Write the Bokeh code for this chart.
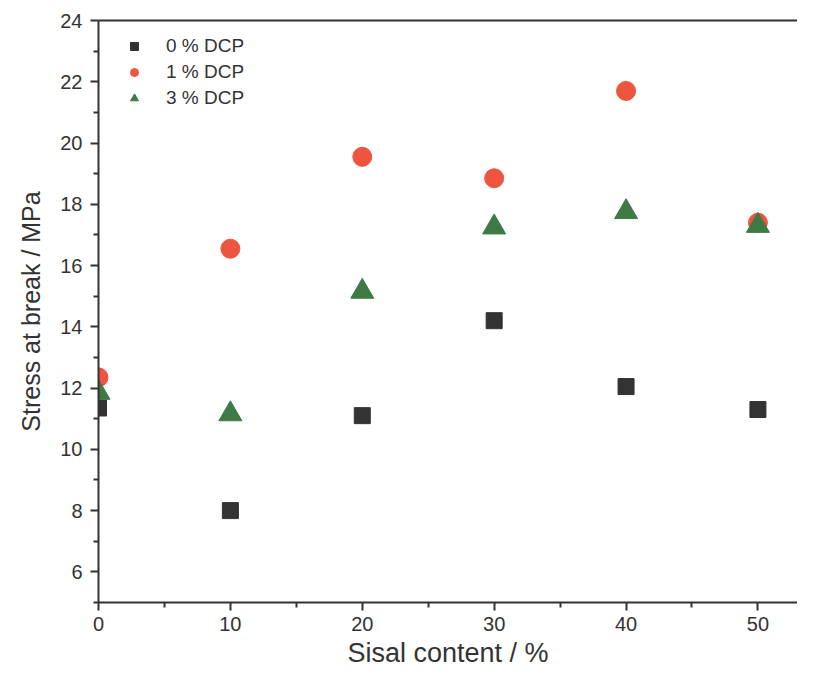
from bokeh.plotting import figure
from bokeh.models import Range1d, LinearAxis, FixedTicker, Legend, LegendItem
from bokeh.embed import file_html
from bokeh.resources import INLINE

sisal = [0, 10, 20, 30, 40, 50]
dcp0 = [11.35, 8.0, 11.1, 14.2, 12.05, 11.3]
dcp1 = [12.35, 16.55, 19.55, 18.85, 21.7, 17.4]
dcp3 = [11.85, 11.15, 15.15, 17.25, 17.75, 17.3]
labels = ["0 % DCP", "1 % DCP", "3 % DCP"]

FONT = "Liberation Sans"
TXT = "#333333"

p = figure(width=797, height=674, output_backend="svg", toolbar_location=None,
           x_range=Range1d(0, 53.0), y_range=Range1d(5, 24),
           min_border_left=98, min_border_right=0, min_border_top=20, min_border_bottom=72)
p.outline_line_color = None
p.grid.visible = False
p.background_fill_color = "white"

r0 = p.scatter(sisal, dcp0, marker="square", size=16, color="#333333")
r1 = p.scatter(sisal, dcp1, marker="circle", size=19, color="#ee5540")
r3 = p.scatter(sisal, dcp3, marker="triangle", size=23, color="#3d7a45")

for ax in (p.xaxis[0], p.yaxis[0]):
    ax.axis_line_width = 2
    ax.axis_line_color = TXT
    ax.major_tick_line_color = TXT
    ax.minor_tick_line_color = TXT
    ax.major_tick_line_width = 2
    ax.minor_tick_line_width = 2
    ax.major_tick_in = 0
    ax.major_tick_out = 8
    ax.minor_tick_in = 0
    ax.minor_tick_out = 5
    ax.major_label_text_font = FONT
    ax.major_label_text_font_size = "20px"
    ax.major_label_text_color = TXT
    ax.axis_label_text_font = FONT
    ax.axis_label_text_font_style = "normal"
    ax.axis_label_text_color = TXT

p.xaxis.ticker = FixedTicker(ticks=[0, 10, 20, 30, 40, 50], minor_ticks=[5, 15, 25, 35, 45])
p.yaxis.ticker = FixedTicker(ticks=[6, 8, 10, 12, 14, 16, 18, 20, 22, 24],
                             minor_ticks=[5, 7, 9, 11, 13, 15, 17, 19, 21, 23])
p.xaxis.axis_label = "Sisal content / %"
p.yaxis.axis_label = "Stress at break / MPa"
p.xaxis.axis_label_text_font_size = "27px"
p.yaxis.axis_label_text_font_size = "25px"
p.xaxis.major_label_standoff = 6
p.yaxis.major_label_standoff = 8
p.xaxis.axis_label_standoff = 4
p.yaxis.axis_label_standoff = 12

top = LinearAxis(ticker=FixedTicker(ticks=[]), axis_line_width=2, axis_line_color=TXT,
                 major_label_text_font_size="0px", major_tick_line_color=None,
                 minor_tick_line_color=None)
p.add_layout(top, "above")

legend = Legend(items=[LegendItem(label=labels[0], renderers=[r0]),
                       LegendItem(label=labels[1], renderers=[r1]),
                       LegendItem(label=labels[2], renderers=[r3])],
                location="top_left", border_line_color=None, background_fill_alpha=0,
                label_text_font=FONT, label_text_font_size="19px", label_text_color=TXT,
                glyph_width=42, glyph_height=20, spacing=4, label_standoff=11,
                margin=15, padding=10)
p.add_layout(legend)

open("out.html", "w").write(file_html(p, INLINE))
